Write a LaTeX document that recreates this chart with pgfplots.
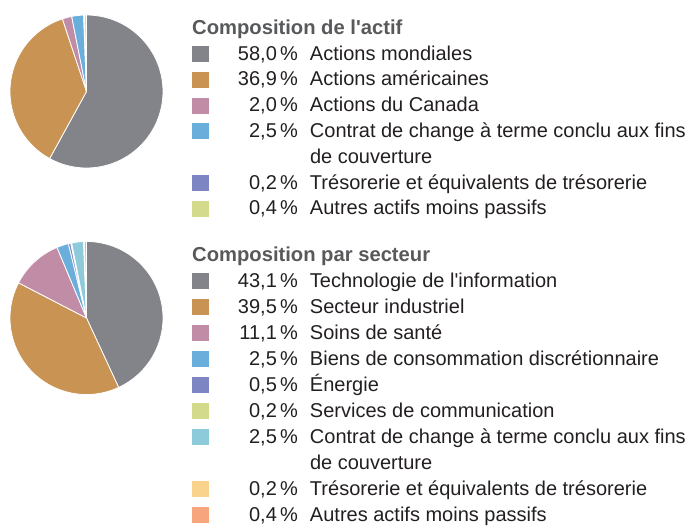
\documentclass[border=0pt]{standalone}
\usepackage{pgfplots}
\usepackage{pgfplotstable}
\pgfplotsset{compat=1.18}
\usepackage{fontspec}
\setmainfont{Liberation Sans}
\newfontfamily\apfont{Liberation Sans}
\newcommand\ap{{\apfont'}}

\definecolor{cGray}{HTML}{838489}
\definecolor{cOrange}{HTML}{C89353}
\definecolor{cPink}{HTML}{C18CA6}
\definecolor{cBlue}{HTML}{6AAEDB}
\definecolor{cPurple}{HTML}{7D86C3}
\definecolor{cGreen}{HTML}{D4DA8C}
\definecolor{cCyan}{HTML}{8DCBDB}
\definecolor{cYellow}{HTML}{F9D38B}
\definecolor{cSalmon}{HTML}{F6A57D}
\definecolor{cTitle}{HTML}{58595B}
\definecolor{cText}{HTML}{231F20}

% Composition de l'actif
\pgfplotstableread{
pct col
58.0 cGray
36.9 cOrange
2.0 cPink
2.5 cBlue
0.2 cPurple
0.4 cGreen
}\actif

% Composition par secteur
\pgfplotstableread{
pct col
43.1 cGray
39.5 cOrange
11.1 cPink
2.5 cBlue
0.5 cPurple
0.2 cGreen
2.5 cCyan
0.2 cYellow
0.4 cSalmon
}\secteur

\newcommand\lfont{\fontsize{20}{24}\selectfont}
\newcommand\entry[2]{\makebox[89pt][r]{#1\,\%}\hspace{12pt}#2}
\newcommand\cont[1]{\hspace{101pt}#1}

% #1 table, #2 row after which a continuation line (empty legend image) follows
\newcommand\drawpie[2]{%
  \pgfplotstablegetrowsof{#1}%
  \pgfmathtruncatemacro\lastrow{\pgfplotsretval-1}%
  \pgfmathsetmacro\cum{0}%
  \pgfplotsforeachungrouped \i in {0,...,\lastrow}{%
    \pgfplotstablegetelem{\i}{pct}\of#1\let\slicePct\pgfplotsretval
    \pgfplotstablegetelem{\i}{col}\of#1\let\sliceCol\pgfplotsretval
    \pgfmathsetmacro\aS{90-3.6*\cum}%
    \pgfmathsetmacro\cum{\cum+\slicePct}%
    \pgfmathsetmacro\aE{90-3.6*\cum}%
    \edef\doplot{\noexpand\addplot[fill=\sliceCol, draw=white, line width=0.8pt,
      domain=\aS:\aE, samples=90, variable=\noexpand\t]
      ({cos(\noexpand\t)},{sin(\noexpand\t)}) -- (axis cs:0,0) -- cycle;}%
    \doplot
    \ifnum\i=#2\relax\addlegendimage{empty legend}\fi
  }%
}

\pgfplotsset{
  pieaxis/.style={
    scale only axis, width=153pt, height=153pt,
    xmin=-1, xmax=1, ymin=-1, ymax=1,
    hide axis, clip=false, anchor=center,
    legend image code/.code={\fill[##1, draw=none] (0pt,-2pt) rectangle (17pt,14pt);},
    legend style={
      anchor=north west, draw=none, fill=none, inner sep=0pt, outer sep=0pt,
      column sep=0pt, row sep=#1,
      nodes={inner sep=0pt, outer sep=0pt, text=cText, font=\lfont,
             text height=15pt, text depth=5pt},
      cells={anchor=base west},
    },
  },
}

\begin{document}
\begin{tikzpicture}
\useasboundingbox (0,0) rectangle (695pt,-527pt);

\begin{axis}[pieaxis=5.8pt, at={(86.5pt,-91.5pt)},
  legend style={at={({(192-10)/153},{(168-45)/153})}}]
  \drawpie{\actif}{3}
  \legend{
    {\entry{58,0}{Actions mondiales}},
    {\entry{36,9}{Actions américaines}},
    {\entry{2,0}{Actions du Canada}},
    {\entry{2,5}{Contrat de change à terme conclu aux fins}},
    {\cont{de couverture}},
    {\entry{0,2}{Trésorerie et équivalents de trésorerie}},
    {\entry{0,4}{Autres actifs moins passifs}}
  }
\end{axis}

\begin{axis}[pieaxis=6pt, at={(86.5pt,-318pt)},
  legend style={at={({(192-10)/153},{(394.5-272)/153})}}]
  \drawpie{\secteur}{6}
  \legend{
    {\entry{43,1}{Technologie de l\ap information}},
    {\entry{39,5}{Secteur industriel}},
    {\entry{11,1}{Soins de santé}},
    {\entry{2,5}{Biens de consommation discrétionnaire}},
    {\entry{0,5}{Énergie}},
    {\entry{0,2}{Services de communication}},
    {\entry{2,5}{Contrat de change à terme conclu aux fins}},
    {\cont{de couverture}},
    {\entry{0,2}{Trésorerie et équivalents de trésorerie}},
    {\entry{0,4}{Autres actifs moins passifs}}
  }
\end{axis}

\node[anchor=base west, inner sep=0pt, text=cTitle, font=\bfseries\fontsize{20.2}{24}\selectfont]
  at (192pt,-35pt) {Composition de l\ap actif};
\node[anchor=base west, inner sep=0pt, text=cTitle, font=\bfseries\fontsize{20.2}{24}\selectfont]
  at (192pt,-261pt) {Composition par secteur};
\end{tikzpicture}
\end{document}
